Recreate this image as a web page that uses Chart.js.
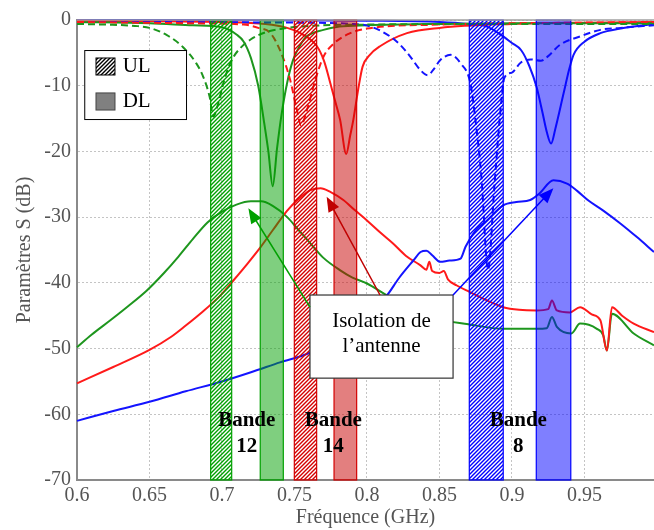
<!DOCTYPE html>
<html><head><meta charset="utf-8">
<script src="https://cdn.jsdelivr.net/npm/chart.js@4.4.1/dist/chart.umd.min.js"></script>
<style>html,body{margin:0;padding:0;background:#fff;}canvas{display:block}</style>
</head><body>
<canvas id="c" width="654" height="530"></canvas>
<script>
// ---- axes ----
const xTicks = [0.6, 0.65, 0.7, 0.75, 0.8, 0.85, 0.9, 0.95];
const xMin = 0.6, xMax = 0.998;
const yMin = -70, yMax = 0, yStep = 10;

// ---- green antenna (Bande 12) ----
const gS_f  = [0.6,0.65,0.68,0.7,0.71,0.715,0.72,0.725,0.729,0.732,0.735,0.738,0.741,0.745,0.749,0.753,0.758,0.77,0.781,0.8,0.85,0.9,0.95,0.998];
const gS_db = [-0.3,-0.5,-0.8,-1.1,-2.2,-3.3,-5.8,-10,-15.5,-20,-25.3,-19.5,-14.5,-9.5,-6.1,-4.2,-2.6,-1.5,-1.0,-0.8,-0.6,-0.5,-0.5,-0.5];
const gD_f  = [0.6,0.62,0.64,0.65,0.662,0.673,0.6823,0.687,0.6915,0.694,0.697,0.701,0.704,0.708,0.713,0.7195,0.731,0.7425,0.76,0.8,0.9,0.998];
const gD_db = [-0.6,-0.7,-0.9,-1.2,-2.3,-4.1,-6.6,-8.6,-11.7,-14.7,-13,-9.6,-7.5,-5.6,-4.2,-3,-1.8,-1.3,-0.9,-0.7,-0.6,-0.6];
const gI_f  = [0.6,0.61,0.623,0.635,0.648,0.66,0.67,0.68,0.69,0.699,0.71,0.72,0.727,0.735,0.745,0.753,0.761,0.77,0.7816,0.79,0.8,0.8138,0.825,0.836,0.846,0.87,0.894,0.917,0.924,0.9276,0.931,0.941,0.947,0.9586,0.963,0.9655,0.969,0.984,0.998];
const gI_db = [-49.8,-47.9,-45.7,-43.6,-41.2,-38.5,-36,-33.3,-30.8,-29.3,-28.1,-27.6,-27.6,-28.3,-30,-32,-34,-36.2,-38.1,-39.2,-40.1,-41.9,-43.3,-44.6,-45.4,-46.3,-47,-47,-46.9,-45.2,-46.7,-47.7,-46.2,-47,-48,-50.3,-44.7,-47.7,-49.5];

// ---- red antenna (Bande 14) ----
const rS_f  = [0.6,0.7,0.73,0.745,0.755,0.7655,0.7705,0.7747,0.778,0.7815,0.7857,0.7885,0.7906,0.794,0.797,0.802,0.809,0.8276,0.85,0.9,0.95,0.998];
const rS_db = [-0.1,-0.3,-0.6,-1.2,-2.1,-4,-6.3,-9.6,-12.3,-15.2,-20.4,-17.5,-15.2,-10.5,-7.1,-5.3,-4,-2,-1.2,-0.6,-0.4,-0.3];
const rD_f  = [0.6,0.68,0.715,0.725,0.7334,0.741,0.747,0.7517,0.7545,0.7586,0.7644,0.77,0.777,0.7885,0.8,0.85,0.9,0.95,0.998];
const rD_db = [-0.3,-0.5,-0.7,-1.2,-2,-5.1,-9.1,-13.7,-16,-13.7,-9.1,-5.6,-3.6,-2,-1.3,-0.7,-0.5,-0.4,-0.3];
const rI_f  = [0.6,0.625,0.65,0.665,0.675,0.685,0.699,0.708,0.7175,0.7265,0.735,0.745,0.753,0.761,0.768,0.775,0.7837,0.792,0.8,0.809,0.818,0.827,0.8367,0.841,0.843,0.845,0.85,0.853,0.856,0.862,0.871,0.883,0.894,0.905,0.917,0.925,0.9276,0.931,0.94,0.947,0.955,0.961,0.9655,0.969,0.976,0.984,0.998];
const rI_db = [-55.3,-52.8,-50.2,-48.2,-46.5,-44.7,-41.9,-39.6,-37.1,-34.6,-32,-29,-27.2,-25.9,-25.6,-26.2,-27.4,-29,-30.5,-32.3,-34,-35.9,-37.3,-38,-36.8,-38.2,-38.5,-38.2,-39.5,-40.4,-41.4,-42.7,-43.7,-44.1,-44.2,-44,-42.7,-44.2,-44.5,-43.7,-44.8,-45.7,-50.3,-43.7,-45,-46.2,-47.5];

// ---- blue antenna (Bande 8) ----
const bS_f  = [0.6,0.7,0.8,0.85,0.87,0.8828,0.894,0.9,0.9064,0.912,0.917,0.921,0.924,0.927,0.93,0.9356,0.9395,0.9425,0.95,0.961,0.975,0.998];
const bS_db = [0,0,-0.1,-0.3,-0.6,-1,-2.5,-3.5,-4.6,-7,-10.2,-14,-17,-18.8,-16.5,-11.2,-7.5,-5.3,-3.3,-2,-1.3,-0.6];
const bD_f  = [0.6,0.75,0.79,0.8025,0.816,0.823,0.83,0.8368,0.842,0.846,0.8506,0.8577,0.8646,0.8713,0.875,0.879,0.8835,0.888,0.892,0.8948,0.9,0.906,0.913,0.92,0.925,0.933,0.947,0.961,0.975,0.998];
const bD_db = [-0.3,-0.4,-0.6,-1,-2.5,-3.8,-5.6,-7.6,-8.4,-7.5,-6.1,-5.3,-6.6,-9.6,-15.5,-24,-38,-25,-14,-8.8,-8,-6.5,-6,-6.2,-5.5,-3.8,-2.5,-1.5,-1.2,-0.8];
const bI_f  = [0.6,0.625,0.65,0.675,0.7,0.72,0.74,0.761,0.775,0.79,0.8,0.8138,0.822,0.832,0.837,0.841,0.845,0.8506,0.857,0.8646,0.868,0.875,0.8828,0.894,0.903,0.9126,0.919,0.9286,0.938,0.945,0.953,0.963,0.975,0.986,0.998];
const bI_db = [-61,-59.5,-58.1,-56.5,-55,-53.6,-52.1,-50.6,-48.7,-46.3,-44.5,-41.9,-39.3,-36.6,-35.3,-35.1,-35.8,-36.8,-36.6,-36.3,-34.5,-32,-30.5,-28.2,-27.7,-27.4,-26.4,-24.4,-24.9,-26,-27.5,-29,-31,-33,-35.3];

// ---- frequency bands (GHz) ----
const bandNames = ['12', '14', '8'];
const ulStart = [0.6922, 0.7499, 0.8706];
const ulEnd   = [0.7067, 0.7653, 0.8940];
const dlStart = [0.7264, 0.7773, 0.9168];
const dlEnd   = [0.7423, 0.7929, 0.9406];

// ---- styles ----
const GREEN = '#1e961e', RED = '#ff1a1a', BLUE = '#1414ff';
const bandEdge = ['#00a000', '#d40000', '#0000ff'];
const bandFill = ['rgba(0,160,0,0.5)', 'rgba(200,0,0,0.5)', 'rgba(0,0,255,0.5)'];
const arrowCol = ['#00a000', '#c00000', '#0000ff'];
const SERIF = '"Liberation Serif", "Times New Roman", serif';

const pts = (f, d) => f.map((x, i) => ({x, y: d[i]}));
function ds(f, d, color, dashed) {
  return {data: pts(f, d), borderColor: color, borderWidth: 2, borderDash: dashed ? [7, 4] : [],
          pointRadius: 0, cubicInterpolationMode: 'monotone', fill: false, clip: 4};
}

function hatch(ctx, color) {
  const p = 4, c = document.createElement('canvas');
  c.width = p; c.height = p;
  const g = c.getContext('2d');
  g.strokeStyle = color; g.lineWidth = 1.4;
  g.beginPath();
  g.moveTo(0, p); g.lineTo(p, 0);
  g.moveTo(-1, 1); g.lineTo(1, -1);
  g.moveTo(p - 1, p + 1); g.lineTo(p + 1, p - 1);
  g.stroke();
  return ctx.createPattern(c, 'repeat');
}

const overlay = {
  id: 'overlay',
  afterDatasetsDraw(chart) {
    const {ctx, scales: {x, y}} = chart;
    const X = v => x.getPixelForValue(v), Y = v => y.getPixelForValue(v);
    const top = Y(yMax), bot = Y(yMin);
    ctx.save();
    // bands
    for (let i = 0; i < 3; i++) {
      let x0 = X(dlStart[i]), x1 = X(dlEnd[i]);
      ctx.fillStyle = bandFill[i];
      ctx.fillRect(x0, top, x1 - x0, bot - top);
      ctx.strokeStyle = bandEdge[i]; ctx.lineWidth = 1.2;
      ctx.strokeRect(x0, top, x1 - x0, bot - top);
      x0 = X(ulStart[i]); x1 = X(ulEnd[i]);
      ctx.fillStyle = hatch(ctx, bandEdge[i]);
      ctx.fillRect(x0, top, x1 - x0, bot - top);
      ctx.strokeRect(x0, top, x1 - x0, bot - top);
    }
    // top frame line
    ctx.strokeStyle = '#a0a0a0'; ctx.lineWidth = 1.5;
    ctx.beginPath(); ctx.moveTo(X(xMin), top); ctx.lineTo(X(xMax), top); ctx.stroke();

    // legend box
    const lx0 = X(0.605), lx1 = X(0.6752), ly0 = Y(-4.57), ly1 = Y(-15.07);
    ctx.fillStyle = '#fff'; ctx.fillRect(lx0, ly0, lx1 - lx0, ly1 - ly0);
    ctx.strokeStyle = '#000'; ctx.lineWidth = 1; ctx.strokeRect(lx0 + 0.5, ly0 + 0.5, lx1 - lx0, ly1 - ly0);
    const sx0 = X(0.6131), sx1 = X(0.6262);
    ctx.fillStyle = hatch(ctx, '#000');
    ctx.fillRect(sx0, Y(-5.78), sx1 - sx0, Y(-8.37) - Y(-5.78));
    ctx.strokeStyle = '#000'; ctx.strokeRect(sx0, Y(-5.78), sx1 - sx0, Y(-8.37) - Y(-5.78));
    ctx.fillStyle = '#808080';
    ctx.fillRect(sx0, Y(-11.1), sx1 - sx0, Y(-13.7) - Y(-11.1));
    ctx.strokeStyle = '#444'; ctx.strokeRect(sx0, Y(-11.1), sx1 - sx0, Y(-13.7) - Y(-11.1));
    ctx.fillStyle = '#000'; ctx.font = '21px ' + SERIF;
    ctx.textAlign = 'left'; ctx.textBaseline = 'middle';
    ctx.fillText('UL', X(0.6315), Y(-7.1));
    ctx.fillText('DL', X(0.6315), Y(-12.4));

    // isolation box
    const bx0 = X(0.7607), bx1 = X(0.8594), by0 = Y(-41.85), by1 = Y(-54.5);
    ctx.fillStyle = '#fff'; ctx.fillRect(bx0, by0, bx1 - bx0, by1 - by0);
    ctx.strokeStyle = '#333'; ctx.lineWidth = 1.2; ctx.strokeRect(bx0, by0, bx1 - bx0, by1 - by0);
    ctx.fillStyle = '#000'; ctx.font = '21px ' + SERIF; ctx.textAlign = 'center'; ctx.textBaseline = 'alphabetic';
    ctx.fillText('Isolation de', X(0.81), Y(-46.67));
    ctx.fillText('l’antenne', X(0.81), Y(-50.48));

    // arrows [from f, from dB, to f, to dB]
    const arrows = [
      [0.7607, -43.7, 0.7182, -28.66],
      [0.809, -41.85, 0.7722, -26.9],
      [0.8594, -41.85, 0.9286, -25.6]
    ];
    arrows.forEach((a, i) => {
      const x0 = X(a[0]), y0 = Y(a[1]), x1 = X(a[2]), y1 = Y(a[3]);
      const ang = Math.atan2(y1 - y0, x1 - x0), L = 15, W = 6;
      const c = Math.cos(ang), s = Math.sin(ang);
      ctx.strokeStyle = arrowCol[i]; ctx.fillStyle = arrowCol[i]; ctx.lineWidth = 1.5;
      ctx.beginPath(); ctx.moveTo(x0, y0); ctx.lineTo(x1 - L * c * 0.8, y1 - L * s * 0.8); ctx.stroke();
      ctx.beginPath(); ctx.moveTo(x1, y1);
      ctx.lineTo(x1 - L * c + W * s, y1 - L * s - W * c);
      ctx.lineTo(x1 - L * c - W * s, y1 - L * s + W * c);
      ctx.closePath(); ctx.fill();
    });

    // band labels
    const labelX = [0.7171, 0.7768, 0.9044];
    ctx.fillStyle = '#000'; ctx.font = 'bold 21px ' + SERIF; ctx.textAlign = 'center'; ctx.textBaseline = 'middle';
    bandNames.forEach((n, i) => {
      ctx.fillText('Bande', X(labelX[i]), Y(-60.95));
      ctx.fillText(n, X(labelX[i]), Y(-64.94));
    });
    ctx.restore();
  }
};

new Chart(document.getElementById('c'), {
  type: 'line',
  data: {
    datasets: [
      ds(gD_f, gD_db, GREEN, true),
      ds(rD_f, rD_db, RED, true),
      ds(bD_f, bD_db, BLUE, true),
      ds(gS_f, gS_db, GREEN, false),
      ds(rS_f, rS_db, RED, false),
      ds(bS_f, bS_db, BLUE, false),
      ds(bI_f, bI_db, BLUE, false),
      ds(rI_f, rI_db, RED, false),
      ds(gI_f, gI_db, GREEN, false)
    ]
  },
  options: {
    responsive: false, animation: false, devicePixelRatio: 1,
    layout: {padding: {top: 20, right: 0, left: 0, bottom: 0}},
    plugins: {legend: {display: false}, tooltip: {enabled: false}},
    scales: {
      x: {
        type: 'linear', min: xMin, max: xMax,
        afterBuildTicks: s => { s.ticks = xTicks.map(v => ({value: v})); },
        afterFit: s => { s.height = 50; },
        ticks: {callback: v => String(v), font: {family: SERIF, size: 20}, color: '#555', padding: 4, maxRotation: 0, autoSkip: false},
        grid: {color: '#c4c4c4', lineWidth: 1, drawTicks: false},
        border: {display: true, color: '#8a8a8a', width: 2, dash: [2, 2]},
        title: {display: true, text: 'Fréquence (GHz)', font: {family: SERIF, size: 20}, color: '#555', padding: {top: 0, bottom: 0}}
      },
      y: {
        type: 'linear', min: yMin, max: yMax,
        ticks: {stepSize: yStep, font: {family: SERIF, size: 20}, color: '#555', padding: 6},
        afterFit: s => { s.width = 77; },
        grid: {color: '#c4c4c4', lineWidth: 1, drawTicks: false},
        border: {display: true, color: '#8a8a8a', width: 2, dash: [2, 2]},
        title: {display: true, text: 'Paramètres S (dB)', font: {family: SERIF, size: 20}, color: '#555', padding: {top: 13, bottom: 0}}
      }
    }
  },
  plugins: [overlay]
});
</script>
</body></html>
